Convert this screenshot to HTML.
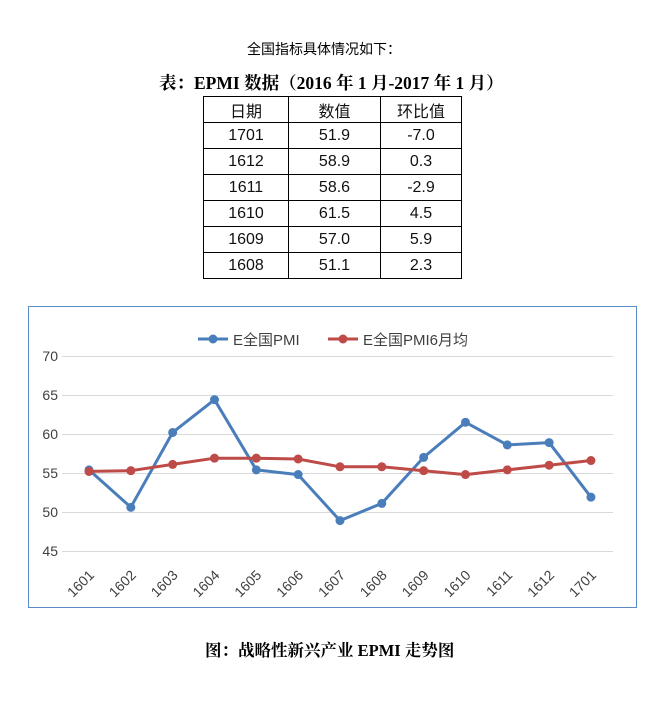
<!DOCTYPE html>
<html><head><meta charset="utf-8"><style>
body{margin:0;width:659px;height:706px;background:#fff;position:relative;overflow:hidden;font-family:"Liberation Sans","Noto Sans CJK SC",sans-serif}
.t{position:absolute;white-space:nowrap}
table{position:absolute;left:203px;top:96px;border-collapse:collapse}
td{border:1px solid #000;height:25px;padding:0;text-align:center;font-size:16px;color:#111}
</style></head><body>
<div class="t" style="left:247px;top:39px;font-size:14px">全国指标具体情况如下：</div>
<div class="t" style="left:159px;top:70px;font-size:17.5px;font-weight:bold;font-family:'Liberation Serif','Noto Serif CJK SC',serif">表：EPMI 数据（2016 年 1 月-2017 年 1 月）</div>
<table>
<tr><td style="width:84px">日期</td><td style="width:91px">数值</td><td style="width:80px">环比值</td></tr>
<tr><td>1701</td><td>51.9</td><td>-7.0</td></tr>
<tr><td>1612</td><td>58.9</td><td>0.3</td></tr>
<tr><td>1611</td><td>58.6</td><td>-2.9</td></tr>
<tr><td>1610</td><td>61.5</td><td>4.5</td></tr>
<tr><td>1609</td><td>57.0</td><td>5.9</td></tr>
<tr><td>1608</td><td>51.1</td><td>2.3</td></tr>
</table>
<svg width="659" height="706" style="position:absolute;left:0;top:0" font-family="Liberation Sans, Noto Sans CJK SC, sans-serif">
<rect x="28.5" y="306.5" width="608" height="301" fill="none" stroke="#5b8bc4" stroke-width="1"/>
<g stroke="#d9d9d9" stroke-width="1">
<line x1="62" x2="613" y1="356.5" y2="356.5"/><line x1="62" x2="613" y1="395.5" y2="395.5"/>
<line x1="62" x2="613" y1="434.5" y2="434.5"/><line x1="62" x2="613" y1="473.5" y2="473.5"/>
<line x1="62" x2="613" y1="512.5" y2="512.5"/><line x1="62" x2="613" y1="551.5" y2="551.5"/>
</g>
<g font-size="14" fill="#404040" text-anchor="end">
<text x="58" y="361">70</text><text x="58" y="400">65</text><text x="58" y="439">60</text>
<text x="58" y="478">55</text><text x="58" y="517">50</text><text x="58" y="556">45</text>
</g>
<g font-size="14" fill="#404040" id="xl"></g>
<line x1="198" x2="228" y1="339" y2="339" stroke="#4a7ebb" stroke-width="3"/><circle cx="213" cy="339" r="4.5" fill="#4a7ebb"/>
<text x="233" y="345" font-size="15" fill="#404040">E全国PMI</text>
<line x1="328" x2="358" y1="339" y2="339" stroke="#be4b48" stroke-width="3"/><circle cx="343" cy="339" r="4.5" fill="#be4b48"/>
<text x="363" y="345" font-size="15" fill="#404040">E全国PMI6月均</text>
<g id="s"></g>
</svg>
<div class="t" style="left:205px;top:637px;font-size:16.5px;font-weight:bold;font-family:'Liberation Serif','Noto Serif CJK SC',serif">图：战略性新兴产业 EPMI 走势图</div>
<script>
var b=[55.4,50.6,60.2,64.4,55.4,54.8,48.9,51.1,57.0,61.5,58.6,58.9,51.9];
var r=[55.2,55.3,56.1,56.9,56.9,56.8,55.8,55.8,55.3,54.8,55.4,56.0,56.6];
var lab=["1601","1602","1603","1604","1605","1606","1607","1608","1609","1610","1611","1612","1701"];
function X(i){return 89+i*41.83}function Y(v){return 356+(70-v)*7.8}
var h="";
[[b,"#4a7ebb"],[r,"#be4b48"]].forEach(function(p){
var pts=p[0].map(function(v,i){return X(i).toFixed(1)+","+Y(v).toFixed(1)}).join(" ");
h+='<polyline points="'+pts+'" fill="none" stroke="'+p[1]+'" stroke-width="3" stroke-linejoin="round"/>';
p[0].forEach(function(v,i){h+='<circle cx="'+X(i)+'" cy="'+Y(v)+'" r="4.5" fill="'+p[1]+'"/>'});});
document.getElementById("s").innerHTML=h;
var x="";lab.forEach(function(l,i){var cx=X(i)+6,cy=576;x+='<text x="'+cx+'" y="'+cy+'" text-anchor="end" transform="rotate(-45 '+cx+' '+cy+')">'+l+'</text>'});
document.getElementById("xl").innerHTML=x;
</script>
</body></html>
